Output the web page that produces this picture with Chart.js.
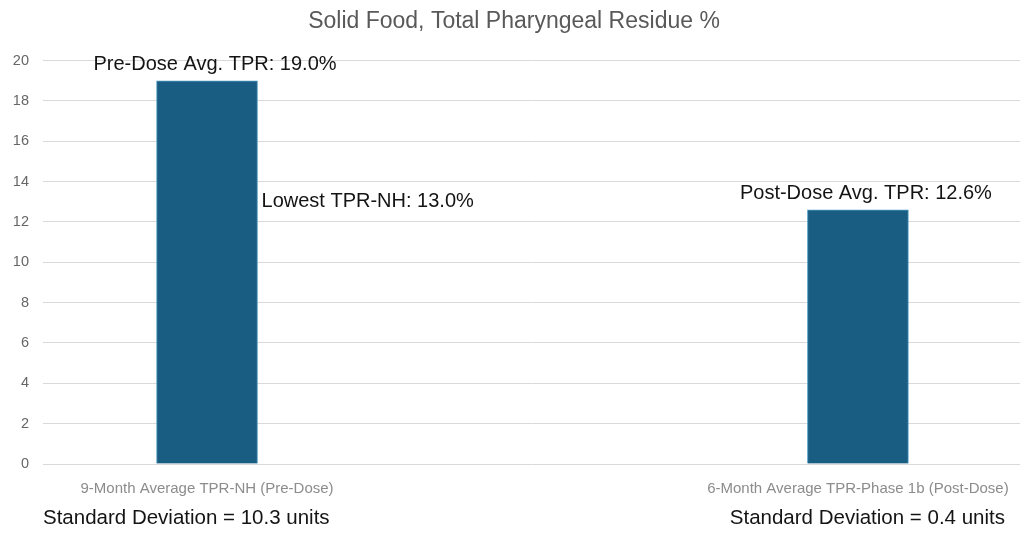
<!DOCTYPE html>
<html>
<head>
    <title>Solid Food, Total Pharyngeal Residue %</title>
    <script src="https://cdn.jsdelivr.net/npm/chart.js@4/dist/chart.umd.min.js"></script>
    <style>
        body {
            margin: 0;
            background-color: white;
        }
        .chart-container {
            width: 1030px;
            height: 534px;
        }
    </style>
</head>
<body>
    <div class="chart-container">
        <canvas id="tprChart"></canvas>
    </div>

    <script>
        // data
        const categories = ['9-Month Average TPR-NH (Pre-Dose)', '6-Month Average TPR-Phase 1b (Post-Dose)'];
        const barPositions = [0, 1];
        const tprValues = [19.0, 12.6];
        const barLabels = ['Pre-Dose Avg. TPR: 19.0%', 'Post-Dose Avg. TPR: 12.6%'];
        const lowestLabel = 'Lowest TPR-NH: 13.0%';
        const lowestValue = 13.0;
        const sdLabels = ['Standard Deviation = 10.3 units', 'Standard Deviation = 0.4 units'];
        const yTicks = [0, 2, 4, 6, 8, 10, 12, 14, 16, 18, 20];

        const fontFamily = '"Liberation Sans", Arial, sans-serif';

        // draws the text notes next to the bars and the SD lines under the axis
        const notesPlugin = {
            id: 'notes',
            afterDatasetsDraw(chart) {
                const ctx = chart.ctx;
                const ys = chart.scales.y;
                const bars = chart.getDatasetMeta(0).data;
                ctx.save();
                ctx.font = '20px ' + fontFamily;
                ctx.fillStyle = '#141414';

                // labels over the bars
                ctx.textAlign = 'center';
                ctx.textBaseline = 'bottom';
                bars.forEach((bar, i) => {
                    ctx.fillText(barLabels[i], bar.x + 8, bar.y - 6);
                });

                // lowest value note, right of first bar
                ctx.textAlign = 'left';
                ctx.textBaseline = 'middle';
                ctx.fillText(lowestLabel, bars[0].x + bars[0].width / 2 + 4, ys.getPixelForValue(lowestValue));

                // standard deviation lines
                ctx.font = '20.5px ' + fontFamily;
                const sdY = chart.height - 16;
                ctx.textAlign = 'left';
                ctx.fillText(sdLabels[0], chart.chartArea.left, sdY);
                ctx.textAlign = 'right';
                ctx.fillText(sdLabels[1], chart.chartArea.right - 15, sdY);
                ctx.restore();
            }
        };

        function createChart() {
            const ctx = document.getElementById('tprChart').getContext('2d');
            new Chart(ctx, {
                type: 'bar',
                data: {
                    datasets: [{
                        data: barPositions.map((p, i) => ({ x: p, y: tprValues[i] })),
                        backgroundColor: '#195e82',
                        borderColor: '#4f9cc4',
                        borderWidth: 1,
                        barThickness: 101
                    }]
                },
                options: {
                    responsive: true,
                    maintainAspectRatio: false,
                    animation: false,
                    layout: {
                        padding: { left: 8, right: 10, top: 0, bottom: 0 }
                    },
                    plugins: {
                        legend: { display: false },
                        tooltip: { enabled: false },
                        title: {
                            display: true,
                            text: 'Solid Food, Total Pharyngeal Residue %',
                            color: '#595959',
                            font: { family: fontFamily, size: 23, weight: 'normal' },
                            padding: { top: 8, bottom: 25 }
                        }
                    },
                    scales: {
                        x: {
                            type: 'linear',
                            offset: false,
                            min: -0.252,
                            max: 1.249,
                            grid: { display: false },
                            border: { display: false },
                            afterBuildTicks: function (axis) {
                                axis.ticks = barPositions.map(v => ({ value: v }));
                            },
                            afterFit: function (axis) {
                                axis.height = 70;
                            },
                            ticks: {
                                color: '#8c8c8c',
                                padding: 8,
                                maxRotation: 0,
                                autoSkip: false,
                                font: { family: fontFamily, size: 15 },
                                callback: function (value) {
                                    const idx = barPositions.indexOf(value);
                                    return idx >= 0 ? categories[idx] : '';
                                }
                            }
                        },
                        y: {
                            min: 0,
                            max: 20,
                            border: { display: false },
                            grid: { color: '#d9d9d9', lineWidth: 1, drawTicks: false },
                            afterBuildTicks: function (axis) {
                                axis.ticks = yTicks.map(v => ({ value: v }));
                            },
                            afterFit: function (axis) {
                                axis.width = 35;
                            },
                            ticks: {
                                color: '#666666',
                                padding: 14,
                                font: { family: fontFamily, size: 14.5 }
                            }
                        }
                    }
                },
                plugins: [notesPlugin]
            });
        }

        createChart();
    </script>
</body>
</html>
